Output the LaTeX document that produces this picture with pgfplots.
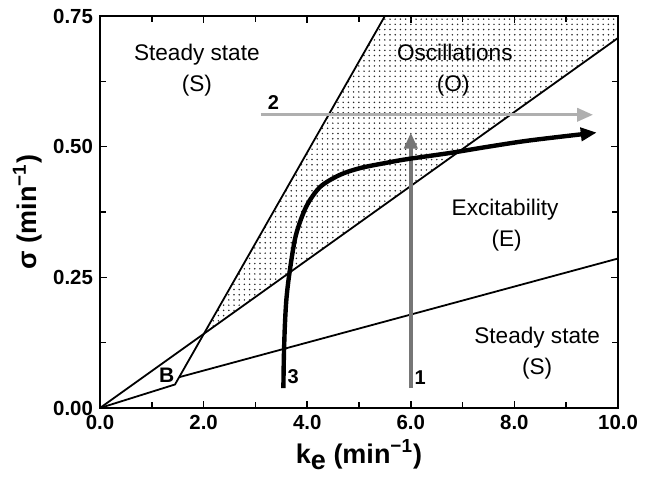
\documentclass[border=0pt]{standalone}
\usepackage{fontspec}
\setmainfont{Liberation Sans}
\usepackage{pgfplots}
\pgfplotsset{compat=1.18}
\usetikzlibrary{patterns.meta,arrows.meta}
\definecolor{arrowgray}{RGB}{118,118,118}
\definecolor{arrowlight}{RGB}{175,175,175}
\begin{document}
\begin{tikzpicture}
\begin{axis}[
  scale only axis, width=259pt, height=196pt,
  xmin=0, xmax=10, ymin=0, ymax=0.75,
  xtick={0,2,4,6,8,10}, ytick={0,0.25,0.5,0.75},
  minor x tick num=1, minor y tick num=1,
  tick align=inside, major tick length=3.5pt, minor tick length=3pt,
  axis line style={line width=1pt},
  every tick/.style={line width=0.8pt, black},
  /pgf/number format/assume math mode=true,
  tick label style={font=\fontsize{10.2}{12}\selectfont\bfseries},
  xticklabel style={/pgf/number format/fixed, /pgf/number format/fixed zerofill, /pgf/number format/precision=1},
  yticklabel style={/pgf/number format/fixed, /pgf/number format/fixed zerofill, /pgf/number format/precision=2},
  xlabel={k\raisebox{-0.45ex}{e} (min\textsuperscript{−1})},
  ylabel={σ (min\textsuperscript{−1})},
  label style={font=\fontsize{13.5}{15}\selectfont\bfseries},
  xlabel style={at={(axis description cs:0.5,-0.12)}, anchor=center},
  ylabel style={at={(axis description cs:-0.14,0.5)}, anchor=center},
]
% oscillation region (dotted)
\addplot[draw=none, pattern={Dots[distance=2.6pt,radius=0.42pt]}, pattern color=black!85]
  coordinates {(2.006,0.142) (5.50,0.75) (10,0.75) (10,0.708) (2.006,0.142)};
% boundaries
\addplot[black, line width=0.9pt] coordinates {(0,0) (1.448,0.045) (5.50,0.75)};
\addplot[black, line width=0.9pt] coordinates {(0,0) (10,0.708)};
\addplot[black, line width=0.9pt] coordinates {(1.53,0.059) (10,0.286)};
% arrow 1
\addplot[arrowgray, line width=2pt, -{Triangle[length=8pt,width=6.5pt]}]
  coordinates {(6.0,0.038) (6.0,0.527)};
% arrow 2
\addplot[arrowlight, line width=1.7pt, -{Triangle[length=8pt,width=6.5pt]}]
  coordinates {(3.1,0.561) (9.52,0.561)};
% trajectory 3
\addplot[black, line width=2.2pt, smooth, tension=0.5, -{Triangle[length=8pt,width=6.5pt]}]
  coordinates {(3.54,0.038) (3.55,0.10) (3.57,0.16) (3.60,0.21) (3.66,0.26) (3.78,0.33)
    (3.98,0.385) (4.25,0.423) (4.63,0.446) (5.02,0.459) (5.47,0.468) (5.92,0.476)
    (6.76,0.488) (7.5,0.500) (8.3,0.512) (9.59,0.527)};
% region labels
\node[font=\fontsize{11.3}{13}\selectfont, anchor=base] at (axis cs:1.87,0.664) {Steady state};
\node[font=\fontsize{11.3}{13}\selectfont, anchor=base] at (axis cs:1.87,0.606) {(S)};
\node[font=\fontsize{11.3}{13}\selectfont, anchor=base] at (axis cs:6.85,0.664) {Oscillations};
\node[font=\fontsize{11.3}{13}\selectfont, anchor=base] at (axis cs:6.82,0.606) {(O)};
\node[font=\fontsize{11.3}{13}\selectfont, anchor=base] at (axis cs:7.82,0.369) {Excitability};
\node[font=\fontsize{11.3}{13}\selectfont, anchor=base] at (axis cs:7.85,0.309) {(E)};
\node[font=\fontsize{11.3}{13}\selectfont, anchor=base] at (axis cs:8.44,0.124) {Steady state};
\node[font=\fontsize{11.3}{13}\selectfont, anchor=base] at (axis cs:8.44,0.064) {(S)};
% markers
\node[font=\fontsize{10.5}{12}\selectfont\bfseries] at (axis cs:1.29,0.063) {B};
\node[font=\fontsize{10}{12}\selectfont\bfseries] at (axis cs:6.18,0.059) {1};
\node[font=\fontsize{10}{12}\selectfont\bfseries] at (axis cs:3.35,0.585) {2};
\node[font=\fontsize{10}{12}\selectfont\bfseries] at (axis cs:3.73,0.060) {3};
\end{axis}
\path (current axis.south west) +(-50pt,-32pt) (current axis.north east) +(13.5pt,8pt);
\end{tikzpicture}
\end{document}
